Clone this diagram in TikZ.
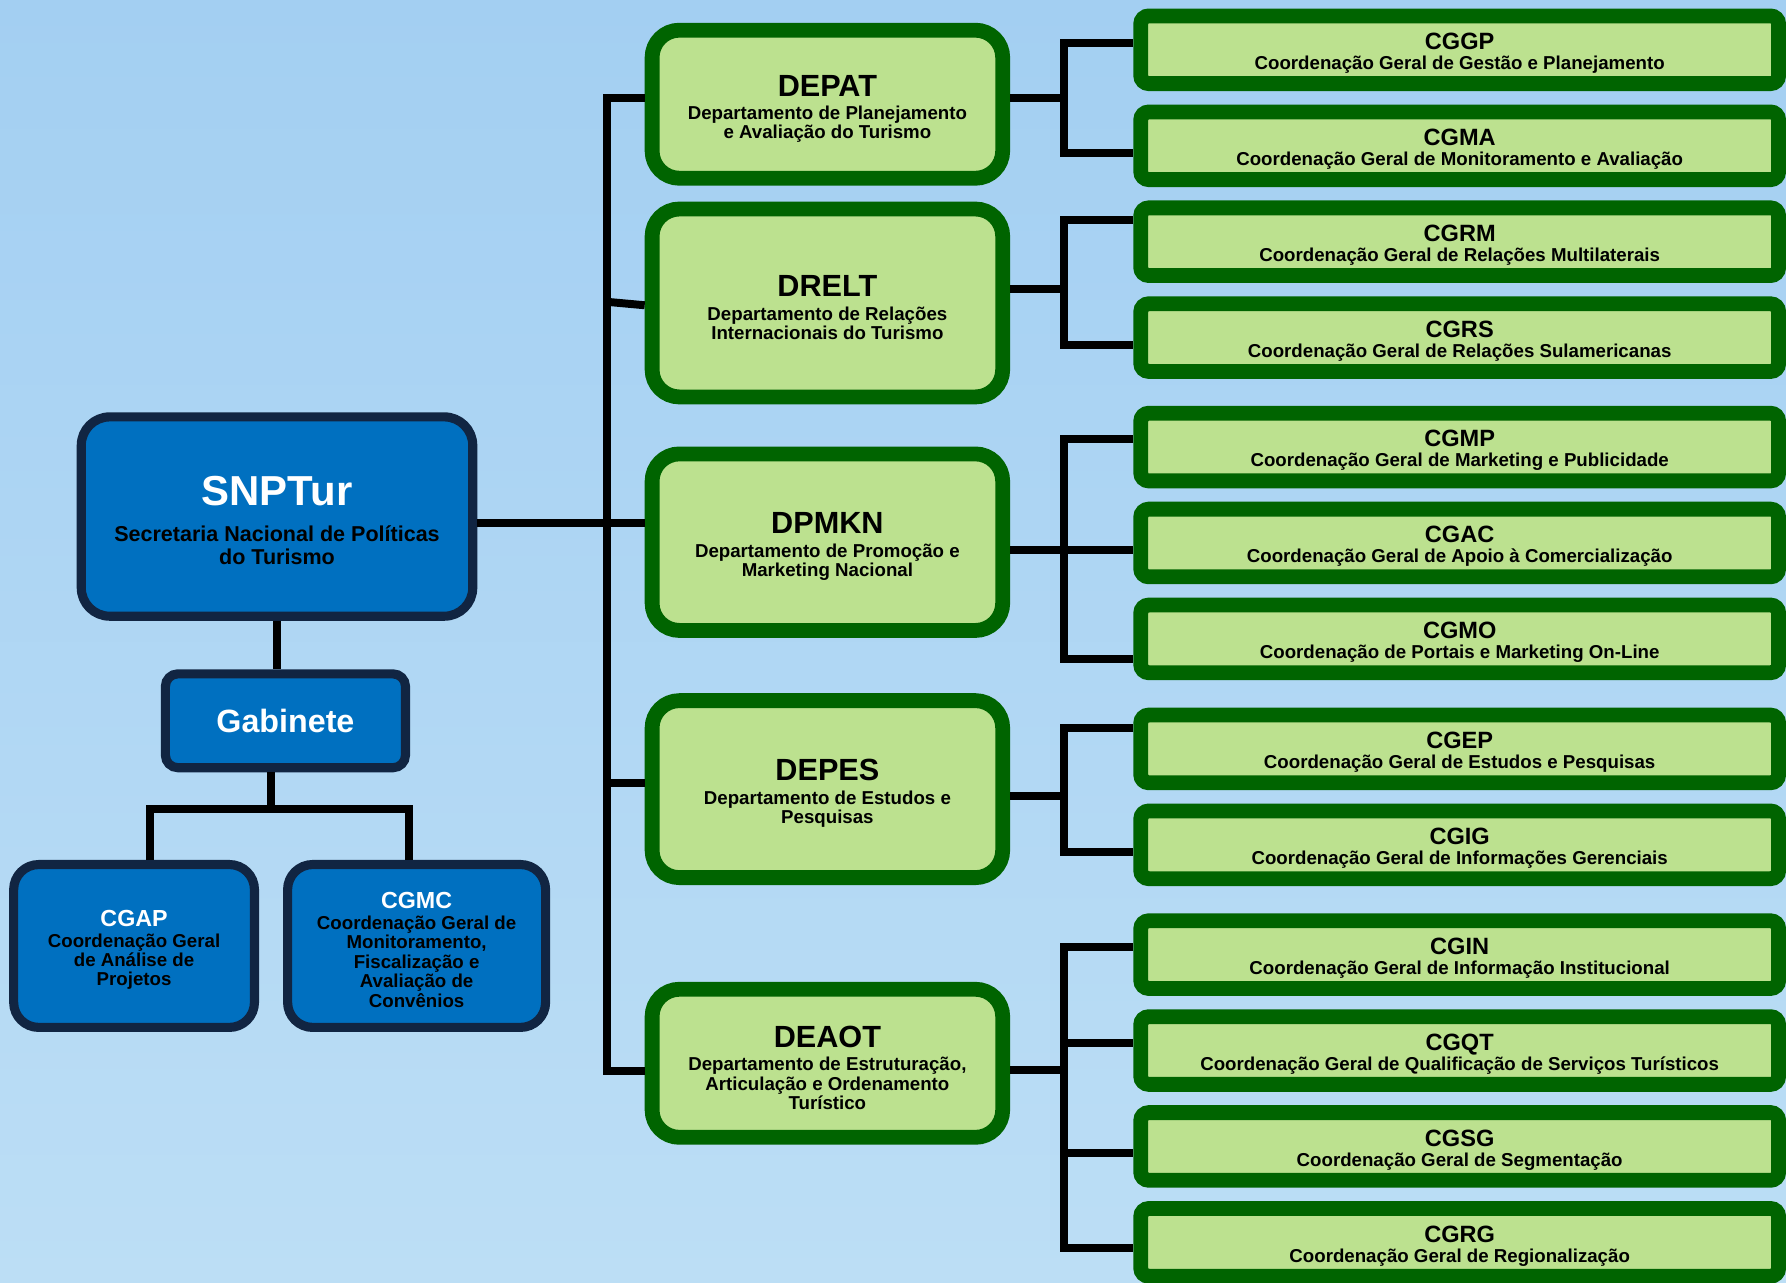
\documentclass[tikz,border=0pt]{standalone}
\usepackage{fontspec}
\setmainfont{Liberation Sans}
\definecolor{bgtop}{RGB}{163,207,242}
\definecolor{bgbot}{RGB}{188,222,245}
\definecolor{bluefill}{RGB}{0,112,192}
\definecolor{blueline}{RGB}{17,37,66}
\definecolor{greenfill}{RGB}{188,225,143}
\definecolor{greenline}{RGB}{0,100,0}
\newcommand\fsetup[2]{\bfseries\fontsize{#1}{#2}\selectfont\lineskiplimit=-100pt\lineskip=0pt}
\tikzset{
  conn/.style={line width=7pt, draw=black, line join=miter},
  bluebox/.style={draw=blueline, fill=bluefill, line width=8pt, align=center, inner sep=0pt},
  greenbox/.style={draw=greenline, fill=greenfill, line width=13pt, rounded corners=24pt,
    align=center, inner sep=0pt, minimum width=307.8pt, font=\fsetup{16.4}{17}},
  coordbox/.style={draw=greenline, fill=greenfill, line width=13pt, rounded corners=7pt,
    align=center, inner sep=0pt, minimum width=560pt, minimum height=59.4pt, font=\fsetup{16.4}{16}},
}
\newcommand\gt[1]{{\fontsize{26.9}{17}\selectfont\rule{0pt}{26.6pt}#1}\\[3.5pt]}
\newcommand\ct[1]{{\fontsize{20.7}{16}\selectfont\rule{0pt}{20.6pt}#1}\\[1.5pt]}
\newcommand\bt[1]{{\color{white}\fontsize{20.4}{17}\selectfont\rule{0pt}{20.9pt}#1}\\[1.5pt]}
\begin{document}
\begin{tikzpicture}[x=1pt,y=-1pt]
\useasboundingbox (0,0) rectangle (1568,1126);
\shade[top color=bgtop, bottom color=bgbot] (0,0) rectangle (1568,1126);

% ---------- left (blue) ----------
\node[bluebox, rounded corners=25pt, minimum width=343.7pt, minimum height=175pt, font=\fsetup{18.9}{20}]
  (SNPTur) at (243.2,453.5)
  {{\color{white}\fontsize{36.8}{20}\selectfont\rule{0pt}{32.9pt}SNPTur}\\[11.6pt]Secretaria Nacional de Políticas\\do Turismo};
\node[bluebox, rounded corners=11pt, minimum width=210.8pt, minimum height=82.4pt, font=\fsetup{28.3}{20}, text=white]
  (Gabinete) at (250.6,632.8) {Gabinete};
\node[bluebox, rounded corners=22pt, minimum width=211.4pt, minimum height=143pt, font=\fsetup{16.4}{17}]
  (CGAP) at (117.7,830.5) {\bt{CGAP}Coordenação Geral\\de Análise de\\Projetos};
\node[bluebox, rounded corners=22pt, minimum width=226.5pt, minimum height=143pt, font=\fsetup{16.4}{17}]
  (CGMC) at (365.75,830.5) {\bt{CGMC}Coordenação Geral de\\Monitoramento,\\Fiscalização e\\Avaliação de\\Convênios};

% ---------- middle (departments) ----------
\node[greenbox, minimum height=130pt] (DEPAT) at (726.4,91.5)
  {\gt{DEPAT}Departamento de Planejamento\\e Avaliação do Turismo};
\node[greenbox, minimum height=165pt] (DRELT) at (726.4,266)
  {\gt{DRELT}Departamento de Relações\\Internacionais do Turismo};
\node[greenbox, minimum height=155pt] (DPMKN) at (726.4,476)
  {\gt{DPMKN}Departamento de Promoção e\\Marketing Nacional};
\node[greenbox, minimum height=155.4pt] (DEPES) at (726.4,692.8)
  {\gt{DEPES}Departamento de Estudos e\\Pesquisas};
\node[greenbox, minimum height=130pt] (DEAOT) at (726.4,933.5)
  {\gt{DEAOT}Departamento de Estruturação,\\Articulação e Ordenamento\\Turístico};

% ---------- right (coordinations) ----------
\node[coordbox] (CGGP) at (1281.5,43.7) {\ct{CGGP}Coordenação Geral de Gestão e Planejamento};
\node[coordbox] (CGMA) at (1281.5,128.0) {\ct{CGMA}Coordenação Geral de Monitoramento e Avaliação};
\node[coordbox] (CGRM) at (1281.5,212.2) {\ct{CGRM}Coordenação Geral de Relações Multilaterais};
\node[coordbox] (CGRS) at (1281.5,296.4) {\ct{CGRS}Coordenação Geral de Relações Sulamericanas};
\node[coordbox] (CGMP) at (1281.5,392.5) {\ct{CGMP}Coordenação Geral de Marketing e Publicidade};
\node[coordbox] (CGAC) at (1281.5,476.7) {\ct{CGAC}Coordenação Geral de Apoio à Comercialização};
\node[coordbox] (CGMO) at (1281.5,560.9) {\ct{CGMO}Coordenação de Portais e Marketing On-Line};
\node[coordbox] (CGEP) at (1281.5,657.5) {\ct{CGEP}Coordenação Geral de Estudos e Pesquisas};
\node[coordbox] (CGIG) at (1281.5,741.7) {\ct{CGIG}Coordenação Geral de Informações Gerenciais};
\node[coordbox] (CGIN) at (1281.5,838.1) {\ct{CGIN}Coordenação Geral de Informação Institucional};
\node[coordbox] (CGQT) at (1281.5,922.3) {\ct{CGQT}Coordenação Geral de Qualificação de Serviços Turísticos};
\node[coordbox] (CGSG) at (1281.5,1006.5) {\ct{CGSG}Coordenação Geral de Segmentação};
\node[coordbox] (CGRG) at (1281.5,1090.7) {\ct{CGRG}Coordenação Geral de Regionalização};

% ---------- junction coordinates ----------
\coordinate (tTop) at (533,86);
\coordinate (tBot) at (533,940);
\coordinate (tDR) at (533,265);
\coordinate (tDRb) at (533,268);
\coordinate (tDE) at (533,687);
\coordinate (sD) at (533,459);
\coordinate (gJ) at (238.3,710);
\coordinate (gL) at (131.7,710);
\coordinate (gR) at (359,710);
% brackets
\coordinate (a0) at (934,86);   \coordinate (a1) at (934,37.5);  \coordinate (a2) at (934,134);
\coordinate (b0) at (934,254);  \coordinate (b1) at (934,193);   \coordinate (b2) at (934,303);
\coordinate (c0) at (934,483);  \coordinate (c1) at (934,385.7); \coordinate (c2) at (934,578.8);
\coordinate (d0) at (934,699);  \coordinate (d1) at (934,639);   \coordinate (d2) at (934,747.8);
\coordinate (e0) at (934,939.5);\coordinate (e1) at (934,831);   \coordinate (e2) at (934,915.5);
\coordinate (e3) at (934,1012); \coordinate (e4) at (934,1096);

% ---------- connectors left ----------
\draw[conn] (SNPTur.south) -- (SNPTur.south |- Gabinete.north);
\draw[conn] (Gabinete.south -| gJ) -- (gJ);
\draw[conn] (CGAP.north -| gL) -- (gL) -- (gR) -- (CGMC.north -| gR);

% ---------- trunk ----------
\draw[conn] (DEPAT.west |- tTop) -- (tTop) -- (tBot) -- (DEAOT.west |- tBot);
\draw[conn] (SNPTur.east |- sD) -- (DPMKN.west |- sD);
\draw[conn] (tDR) -- (DRELT.west |- tDRb);
\draw[conn] (tDE) -- (DEPES.west |- tDE);

% ---------- brackets right ----------
\draw[conn] (DEPAT.east |- a0) -- (a0);
\draw[conn] (CGGP.west |- a1) -- (a1) -- (a2) -- (CGMA.west |- a2);
\draw[conn] (DRELT.east |- b0) -- (b0);
\draw[conn] (CGRM.west |- b1) -- (b1) -- (b2) -- (CGRS.west |- b2);
\draw[conn] (DPMKN.east |- c0) -- (CGAC.west |- c0);
\draw[conn] (CGMP.west |- c1) -- (c1) -- (c2) -- (CGMO.west |- c2);
\draw[conn] (DEPES.east |- d0) -- (d0);
\draw[conn] (CGEP.west |- d1) -- (d1) -- (d2) -- (CGIG.west |- d2);
\draw[conn] (DEAOT.east |- e0) -- (e0);
\draw[conn] (CGIN.west |- e1) -- (e1) -- (e4) -- (CGRG.west |- e4);
\draw[conn] (e2) -- (CGQT.west |- e2);
\draw[conn] (e3) -- (CGSG.west |- e3);
\end{tikzpicture}
\end{document}
